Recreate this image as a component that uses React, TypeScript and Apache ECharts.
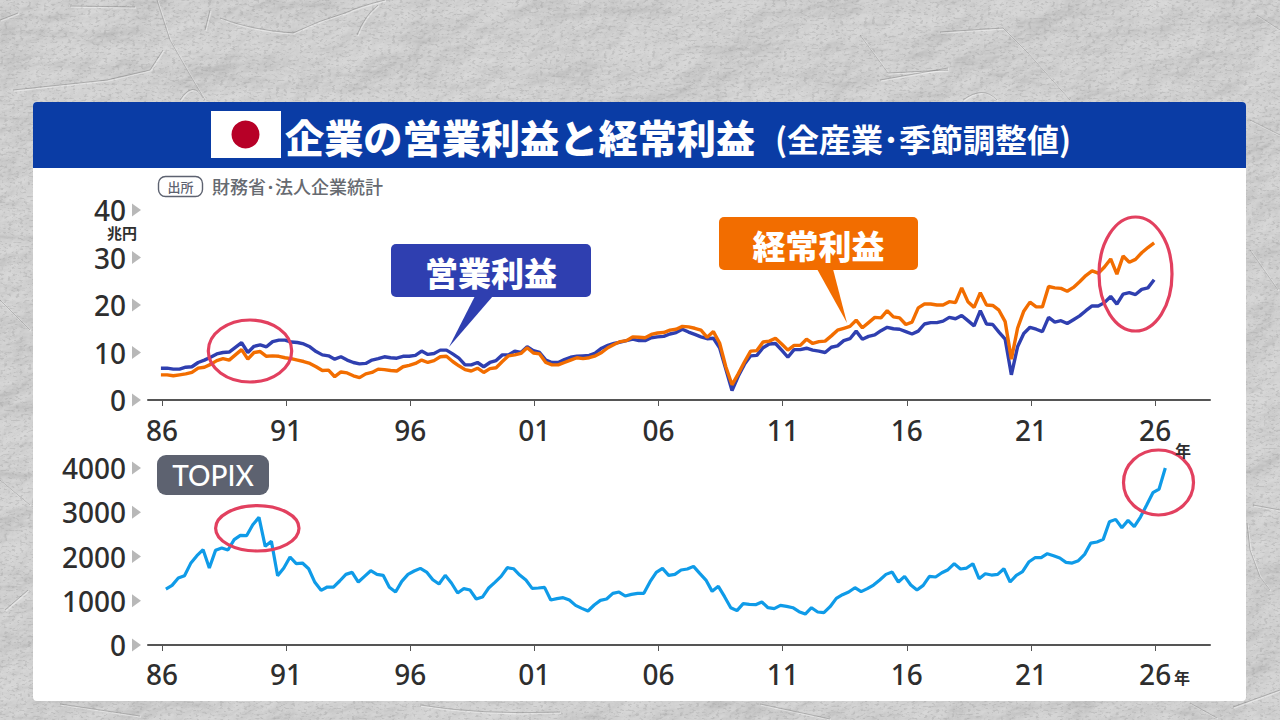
import React, { useEffect, useRef } from "react";
import * as echarts from "echarts";

const operatingProfit = [
  6.7, 6.7, 6.5, 6.5, 6.9, 7.0, 7.9, 8.4, 9.0, 9.7, 10.0, 10.1, 11.1, 12.1, 10.0, 11.3, 11.6, 11.2, 12.3, 12.6,
  12.6, 12.2, 12.1, 11.8, 11.2, 10.2, 9.5, 9.3, 8.6, 9.1, 8.4, 7.9, 7.6, 7.7, 8.4, 8.7, 9.1, 8.9, 8.8, 9.2,
  9.2, 9.4, 10.3, 9.6, 9.8, 10.5, 10.5, 9.7, 8.8, 7.4, 7.4, 7.9, 7.0, 7.9, 8.3, 9.5, 9.5, 10.3, 10.0, 11.2,
  10.4, 10.0, 8.4, 7.9, 7.9, 8.5, 9.0, 9.2, 9.3, 9.4, 9.9, 10.9, 11.5, 11.9, 12.2, 12.5, 12.8, 12.5, 12.5, 13.1,
  13.3, 13.4, 13.9, 14.2, 14.9, 14.3, 13.8, 13.3, 12.9, 13.0, 11.0, 6.5, 2.0, 5.0, 7.5, 9.3, 9.4, 11.0, 11.8, 11.9,
  10.5, 9.0, 10.6, 10.6, 10.9, 10.5, 10.3, 10.0, 11.1, 11.4, 12.5, 12.9, 14.5, 12.8, 13.4, 13.7, 14.6, 15.3, 15.0, 14.9,
  14.4, 13.9, 14.5, 16.0, 16.3, 16.3, 16.6, 17.4, 17.1, 17.8, 16.7, 15.6, 18.8, 16.0, 15.9, 14.3, 12.8, 5.3, 11.2, 14.0,
  15.3, 14.9, 14.4, 17.4, 16.4, 16.7, 16.1, 16.9, 17.7, 18.8, 19.8, 19.8, 20.5, 21.8, 20.2, 22.3, 22.6, 22.2, 23.3, 23.6,
  25.3,
];

const ordinaryProfit = [
  5.3, 5.3, 5.1, 5.3, 5.5, 5.8, 6.7, 6.9, 7.5, 8.3, 8.7, 8.4, 9.5, 10.6, 8.6, 10.0, 10.2, 9.2, 9.3, 9.2,
  8.9, 8.7, 8.4, 8.1, 7.7, 7.0, 6.2, 6.3, 4.9, 5.9, 5.7, 5.1, 4.7, 5.5, 5.8, 6.5, 6.4, 6.2, 6.1, 7.0,
  7.3, 7.7, 8.4, 7.9, 8.3, 9.1, 9.2, 8.1, 7.2, 6.4, 6.1, 6.7, 5.8, 6.6, 6.8, 8.1, 9.3, 9.5, 9.8, 11.0,
  9.9, 9.7, 7.9, 7.4, 7.4, 7.9, 8.4, 8.9, 8.7, 8.9, 9.3, 10.0, 11.0, 11.7, 12.3, 12.5, 13.3, 13.2, 13.1, 13.8,
  14.1, 14.2, 14.7, 14.9, 15.5, 15.4, 15.1, 14.7, 13.2, 14.4, 12.0, 7.0, 3.2, 5.5, 8.0, 10.3, 10.4, 12.2, 12.4, 13.0,
  11.8, 10.5, 11.5, 11.5, 12.8, 11.9, 12.3, 12.4, 13.5, 14.7, 15.1, 15.5, 16.8, 15.2, 16.3, 17.4, 17.3, 18.8, 17.5, 17.3,
  15.9, 16.4, 19.4, 20.2, 20.2, 20.0, 20.0, 20.7, 20.5, 23.6, 20.7, 19.5, 22.6, 20.0, 19.9, 18.9, 16.5, 8.6, 15.1, 18.7,
  20.6, 19.6, 19.6, 23.9, 23.6, 23.5, 22.9, 23.7, 24.9, 26.2, 27.2, 26.7, 28.0, 29.7, 26.5, 30.3, 29.0, 29.6, 31.0, 32.1,
  33.1,
];

const topix = [
  1265, 1348, 1513, 1566, 1845, 2018, 2154, 1739, 2139, 2191, 2146, 2380, 2477, 2470, 2718, 2884, 2229, 2342, 1566, 1739,
  1988, 1837, 1852, 1724, 1416, 1235, 1310, 1310, 1446, 1596, 1641, 1423, 1551, 1679, 1596, 1574, 1303, 1197, 1438, 1596,
  1672, 1732, 1649, 1476, 1378, 1574, 1401, 1175, 1273, 1242, 1039, 1084, 1288, 1416, 1551, 1747, 1724, 1581, 1468, 1280,
  1288, 1303, 1017, 1047, 1069, 1017, 896, 828, 768, 904, 1009, 1039, 1167, 1197, 1107, 1145, 1167, 1167, 1431, 1642,
  1732, 1574, 1596, 1694, 1717, 1777, 1619, 1468, 1212, 1325, 1092, 843, 776, 934, 919, 911, 971, 843, 821, 896,
  873, 843, 753, 700, 843, 745, 730, 866, 1054, 1137, 1197, 1295, 1205, 1273, 1355, 1468, 1596, 1649, 1423, 1551,
  1355, 1242, 1348, 1551, 1536, 1634, 1702, 1837, 1717, 1739, 1837, 1498, 1611, 1581, 1596, 1724, 1423, 1574, 1657, 1875,
  1973, 1973, 2063, 2018, 1965, 1867, 1852, 1905, 2048, 2304, 2327, 2387, 2786, 2839, 2651, 2816, 2673, 2892, 3163, 3441,
  3524, 4000,
];

const yearTicks = [1986, 1991, 1996, 2001, 2006, 2011, 2016, 2021, 2026];
const profitTicks = [0, 10, 20, 30, 40];
const topixTicks = [0, 1000, 2000, 3000, 4000];

const TITLE_MAIN = "企業の営業利益と経常利益";
const TITLE_SUB = "(全産業･季節調整値)";
const SOURCE_TAG = "出所";
const SOURCE = "財務省･法人企業統計";
const UNIT_PROFIT = "兆円";
const UNIT_YEAR = "年";
const LABEL_OPERATING = "営業利益";
const LABEL_ORDINARY = "経常利益";
const LABEL_TOPIX = "TOPIX";

const BLUE = "#2f3fb0";
const ORANGE = "#f26d00";
const SKY = "#0f9be8";
const RED = "#e2405f";
const INK = "#2e2e2e";
const CJK = '"Noto Sans CJK JP", "Noto Sans", sans-serif';
const LATIN = '"Noto Sans", "Noto Sans CJK JP", sans-serif';

const toPairs = (values: number[], start: number) =>
  values.map((v, i) => [start + i / 4, v]);

const creases = [
  "M157,0 L170,40 L190,75 L205,100",
  "M70,6 L135,7",
  "M220,18 Q250,30 293,33 Q320,20 345,13 Q360,6 385,0",
  "M210,10 L205,30",
  "M13,90 L107,80 L150,70 L163,50",
  "M180,100 Q193,80 203,98",
  "M357,35 Q365,15 378,5",
  "M0,20 L18,13",
  "M1003,28 L1027,52 L1070,100",
  "M860,35 L888,73 L948,70",
  "M940,32 L1003,28",
  "M880,80 L948,68",
  "M963,100 Q983,85 997,100",
  "M1257,15 L1280,30",
  "M1247,523 L1250,550 L1260,577 L1270,590",
  "M1253,505 L1280,510",
  "M1190,703 L1217,718",
  "M1233,707 L1280,690",
  "M0,480 L30,505",
  "M5,610 L28,590",
  "M0,300 L30,330",
  "M1250,250 L1278,290",
  "M420,705 Q480,715 560,712",
  "M760,704 L830,719",
  "M60,704 L140,716",
  "M1250,120 L1280,135",
];

const textureSvg = `<svg xmlns='http://www.w3.org/2000/svg' width='1280' height='720'><defs><filter id='p' x='0' y='0' width='100%' height='100%'><feTurbulence type='fractalNoise' baseFrequency='0.012 0.02' numOctaves='6' seed='11'/><feDiffuseLighting surfaceScale='4.5' diffuseConstant='1.08' lighting-color='#d4d4d4'><feDistantLight azimuth='225' elevation='62'/></feDiffuseLighting></filter><filter id='s' x='0' y='0' width='100%' height='100%'><feTurbulence type='fractalNoise' baseFrequency='0.25 0.5' numOctaves='2' seed='4'/><feColorMatrix values='0 0 0 0 .35  0 0 0 0 .35  0 0 0 0 .35  0 0 0 6 -3.3'/></filter></defs><rect width='1280' height='720' filter='url(#p)'/><rect width='1280' height='720' filter='url(#s)' opacity='.35'/><g fill='none' stroke='#fff' stroke-opacity='.4' stroke-width='1.4' transform='translate(1 1)'>${creases.map((d) => `<path d='${d}'/>`).join("")}</g><g fill='none' stroke='#6e6e6e' stroke-opacity='.5' stroke-width='.8'>${creases.map((d) => `<path d='${d}'/>`).join("")}</g></svg>`;

const xAxis = (gridIndex: number, margin: number) => ({
  type: "value",
  gridIndex,
  min: 1985.44,
  max: 2028.21,
  splitLine: { show: false },
  axisLine: { show: true, onZero: false, lineStyle: { color: "#555555", width: 2 } },
  axisTick: { show: true, length: 6, customValues: yearTicks, lineStyle: { color: "#555555", width: 1 } },
  axisLabel: {
    show: true,
    customValues: yearTicks,
    margin,
    fontFamily: LATIN,
    fontSize: 28,
    fontWeight: 500,
    color: INK,
    showMinLabel: true,
    showMaxLabel: true,
    formatter: (v: number) => String(Math.round(v) % 100).padStart(2, "0"),
  },
});

const yAxis = (gridIndex: number, max: number, interval: number, ticks: number[]) => ({
  type: "value",
  gridIndex,
  min: ticks[0],
  max,
  interval,
  splitLine: { show: false },
  axisLine: { show: false },
  axisTick: { show: false },
  axisLabel: {
    margin: 22,
    fontFamily: LATIN,
    fontSize: 28,
    fontWeight: 500,
    color: INK,
    formatter: (v: number) => String(v),
  },
});

const ellipse = (cx: number, cy: number, rx: number, ry: number) => ({
  type: "ellipse",
  z: 20,
  shape: { cx, cy, rx, ry },
  style: { fill: "none", stroke: RED, lineWidth: 3.2 },
});

const text = (x: number, y: number, t: string, size: number, fill: string, extra: any = {}) => ({
  type: "text",
  z: 21,
  x,
  y,
  style: {
    text: t,
    fontSize: size,
    fontFamily: CJK,
    fontWeight: 700,
    fill,
    textAlign: "left",
    textVerticalAlign: "middle",
    ...extra,
  },
});

const callout = (
  x: number, y: number, w: number, h: number,
  pointer: number[][], color: string, label: string,
) => [
  { type: "rect", z: 20, shape: { x, y, width: w, height: h, r: 5 }, style: { fill: color } },
  { type: "polygon", z: 20, shape: { points: pointer }, style: { fill: color } },
  text(x + w / 2, y + h / 2 + 1, label, 33, "#ffffff", { textAlign: "center", fontWeight: 900 }),
];

export default function App() {
  const ref = useRef<HTMLDivElement>(null);
  useEffect(() => {
    document.body.style.margin = "0";
    const chart = echarts.init(ref.current!, undefined, { renderer: "svg", width: 1280, height: 720 });
    chart.setOption({
      animation: false,
      backgroundColor: "transparent",
      grid: [
        { left: 148, top: 210, width: 1062, height: 190 },
        { left: 148, top: 468, width: 1062, height: 177 },
      ],
      xAxis: [xAxis(0, 16), xAxis(1, 15)],
      yAxis: [yAxis(0, 40, 10, profitTicks), yAxis(1, 4000, 1000, topixTicks)],
      series: [
        {
          name: LABEL_OPERATING, type: "line", xAxisIndex: 0, yAxisIndex: 0, showSymbol: false,
          data: toPairs(operatingProfit, 1985.96), lineStyle: { color: BLUE, width: 3.4 }, z: 3,
        },
        {
          name: LABEL_ORDINARY, type: "line", xAxisIndex: 0, yAxisIndex: 0, showSymbol: false,
          data: toPairs(ordinaryProfit, 1985.96), lineStyle: { color: ORANGE, width: 3.4 }, z: 4,
        },
        {
          name: LABEL_TOPIX, type: "line", xAxisIndex: 1, yAxisIndex: 1, showSymbol: false,
          data: toPairs(topix, 1986.16), lineStyle: { color: SKY, width: 3.2 }, z: 3,
        },
      ],
    });

    const triangle = (axis: number, v: number) => {
      const y = chart.convertToPixel({ yAxisIndex: axis }, v) as number;
      return {
        type: "polygon",
        z: 5,
        shape: { points: [[132, y - 6.5], [141, y], [132, y + 6.5]] },
        style: { fill: "#b8b8b8" },
      };
    };

    chart.setOption({
      graphic: {
        elements: [
          { type: "rect", z: -10, shape: { x: 33, y: 102, width: 1213, height: 599, r: 4 }, style: { fill: "#ffffff" } },
          { type: "rect", z: -9, shape: { x: 33, y: 102, width: 1213, height: 66, r: [4, 4, 0, 0] }, style: { fill: "#0a3ca5" } },
          { type: "rect", z: -8, shape: { x: 211, y: 111, width: 70, height: 47 }, style: { fill: "#ffffff" } },
          { type: "circle", z: -7, shape: { cx: 245.5, cy: 134.5, r: 14 }, style: { fill: "#b70027" } },
          text(285, 136, TITLE_MAIN, 39.2, "#ffffff", { fontWeight: 900 }),
          text(775, 138, TITLE_SUB, 32, "#ffffff"),
          { type: "rect", z: 5, shape: { x: 158.5, y: 176.5, width: 44, height: 20, r: 7 }, style: { fill: "#ffffff", stroke: "#5d6270", lineWidth: 1.4 } },
          text(180.5, 186.5, SOURCE_TAG, 13, "#5d6270", { textAlign: "center", fontWeight: 500 }),
          text(212, 186, SOURCE, 18, "#666a70", { fontWeight: 500 }),
          text(107, 232, UNIT_PROFIT, 15, INK),
          text(1175, 450, UNIT_YEAR, 16, INK),
          text(1174, 677, UNIT_YEAR, 16, INK),
          { type: "rect", z: 5, shape: { x: 157, y: 455, width: 112, height: 40, r: 9 }, style: { fill: "#5d6270" } },
          text(213, 475, LABEL_TOPIX, 28, "#ffffff", { textAlign: "center", fontFamily: '"Lato", "Noto Sans", sans-serif', fontWeight: 500 }),
          ...profitTicks.map((v) => triangle(0, v)),
          ...topixTicks.map((v) => triangle(1, v)),
          ...callout(391, 244, 200, 53, [[475, 296], [493, 296], [449, 347]], BLUE, LABEL_OPERATING),
          ...callout(719, 217, 199, 53, [[817, 269], [833, 269], [847, 323]], ORANGE, LABEL_ORDINARY),
          ellipse(250, 351, 41.7, 31),
          ellipse(1135.5, 274, 36.5, 57),
          ellipse(257.3, 528.3, 41.7, 22.7),
          ellipse(1158.5, 482.5, 35, 32.5),
        ],
      },
    });
    return () => chart.dispose();
  }, []);
  return (
    <div
      ref={ref}
      style={{
        position: "absolute",
        left: 0,
        top: 0,
        width: 1280,
        height: 720,
        backgroundColor: "#d0d0d0",
        backgroundImage: `url("data:image/svg+xml,${encodeURIComponent(textureSvg)}")`,
      }}
    />
  );
}
